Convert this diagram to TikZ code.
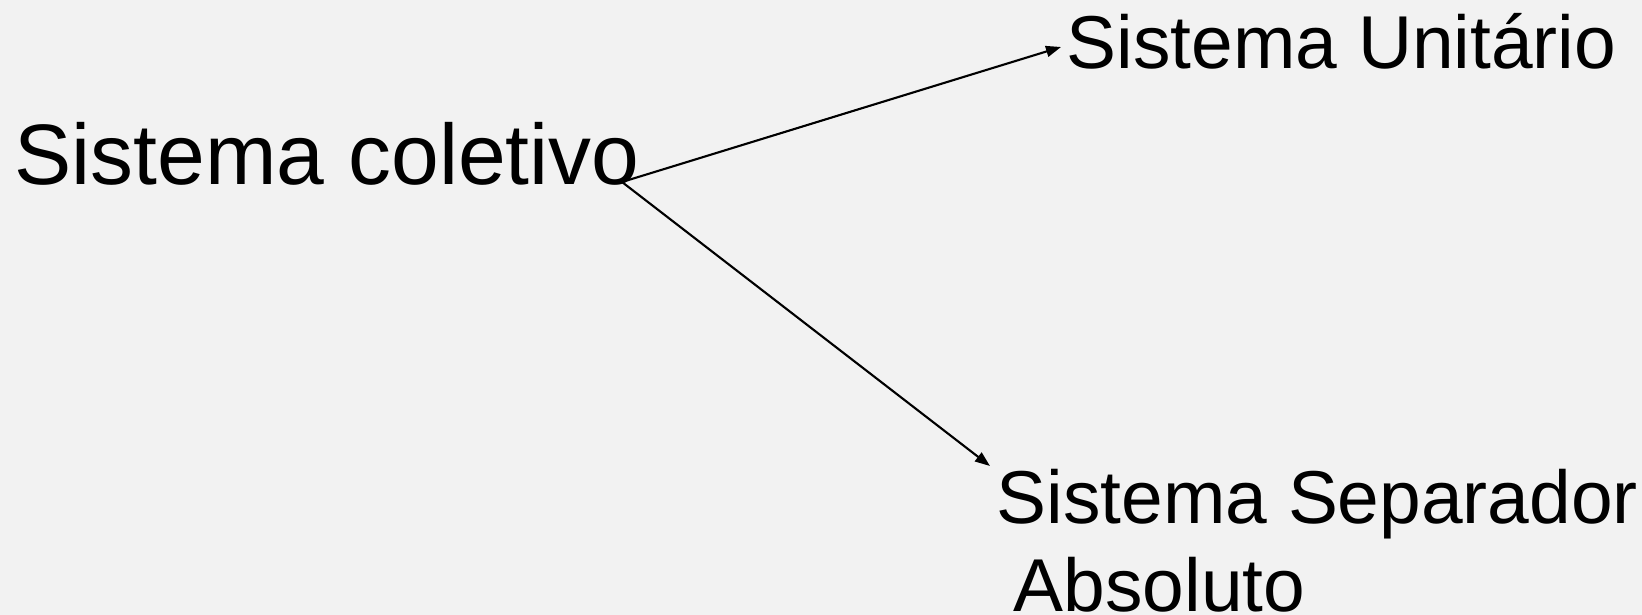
\documentclass[tikz,border=0pt]{standalone}
\usepackage{fontspec}
\setmainfont{Liberation Sans}
\usetikzlibrary{arrows.meta}
\definecolor{bgcol}{HTML}{F2F2F2}
\newcommand\bigfont{\fontsize{24.4}{28}\selectfont}
\newcommand\smallfont{\fontsize{21.3}{25}\selectfont\lineskiplimit=-20pt\relax}
\begin{document}
\begin{tikzpicture}[x=0.01cm,y=-0.01cm,lbl/.style={inner sep=0pt,anchor=base west,align=left,font=\smallfont},arr/.style={line width=0.6pt,-{Triangle[length=0.15cm,width=0.11cm]}}]
\fill[bgcol] (0,0) rectangle (1642,615);
\useasboundingbox (0,0) rectangle (1642,615);
\node[lbl,font=\bigfont] (coletivo) at (14,184) {Sistema coletivo};
\node[lbl] (unitario) at (1066,68) {Sistema Unitário};
\node[lbl] (separador) at (996,611) {Sistema Separador\\\hspace{0.17cm}Absoluto};
\coordinate (fork) at (622,182);
\draw[arr] (fork) -- ([shift={(-5,-21)}]unitario.base west);
\draw[arr] (fork) -- ([shift={(-6,-145)}]separador.base west);
\end{tikzpicture}
\end{document}
